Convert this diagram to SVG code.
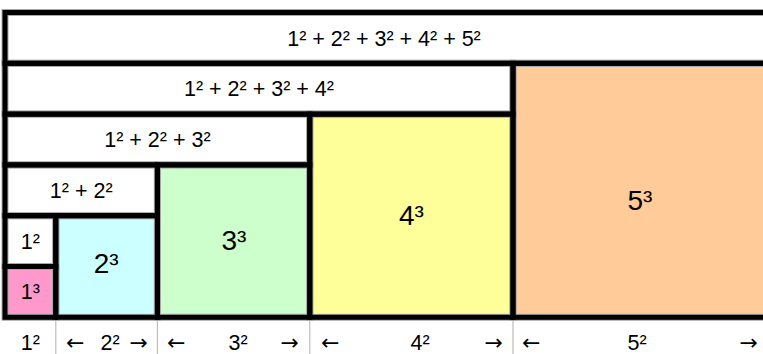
<svg xmlns="http://www.w3.org/2000/svg" width="763" height="354" viewBox="0 0 763 354">
<style>
text{font-family:"Liberation Sans",Arial,sans-serif;fill:#000;font-size:21.5px;text-anchor:middle}
.big{font-size:28px}
.ar{font-family:"DejaVu Sans","Liberation Sans",sans-serif;font-size:22px}
.st{text-anchor:start}
.en{text-anchor:end}
.halo{fill:none;stroke:#a8a8a8;stroke-width:7}
.bd{fill:none;stroke:#000;stroke-width:5}
.grid{stroke:#bdbdbd;stroke-width:1.2}
</style>
<rect width="763" height="354" fill="#fff"/>
<g id="fills">
<rect x="5" y="12.5" width="780" height="50.8" fill="#fff"/>
<rect x="5" y="63.3" width="508" height="50.8" fill="#fff"/>
<rect x="513" y="63.3" width="270" height="254" fill="#ffcc99"/>
<rect x="5" y="114.1" width="304.8" height="50.8" fill="#fff"/>
<rect x="309.8" y="114.1" width="203.2" height="203.2" fill="#ffff99"/>
<rect x="5" y="164.9" width="152.4" height="50.8" fill="#fff"/>
<rect x="157.4" y="164.9" width="152.4" height="152.4" fill="#ccffcc"/>
<rect x="5" y="215.7" width="50.8" height="50.8" fill="#fff"/>
<rect x="5" y="266.5" width="50.8" height="50.8" fill="#ff99cc"/>
<rect x="55.8" y="215.7" width="101.6" height="101.6" fill="#ccffff"/>
</g>
<g id="connectors">
<line class="grid" x1="55.8" y1="317" x2="55.8" y2="354"/>
<line class="grid" x1="157.4" y1="317" x2="157.4" y2="354"/>
<line class="grid" x1="309.8" y1="317" x2="309.8" y2="354"/>
<line class="grid" x1="513" y1="317" x2="513" y2="354"/>
</g>
<g id="halos">
<rect class="halo" x="5" y="12.5" width="780" height="50.8"/>
<rect class="halo" x="5" y="63.3" width="508" height="50.8"/>
<rect class="halo" x="513" y="63.3" width="270" height="254"/>
<rect class="halo" x="5" y="114.1" width="304.8" height="50.8"/>
<rect class="halo" x="309.8" y="114.1" width="203.2" height="203.2"/>
<rect class="halo" x="5" y="164.9" width="152.4" height="50.8"/>
<rect class="halo" x="157.4" y="164.9" width="152.4" height="152.4"/>
<rect class="halo" x="5" y="215.7" width="50.8" height="50.8"/>
<rect class="halo" x="5" y="266.5" width="50.8" height="50.8"/>
<rect class="halo" x="55.8" y="215.7" width="101.6" height="101.6"/>
</g>
<g id="row1"><rect class="bd" x="5" y="12.5" width="780" height="50.8"/><text x="384" y="45.5">1² + 2² + 3² + 4² + 5²</text></g>
<g id="row2"><rect class="bd" x="5" y="63.3" width="508" height="50.8"/><text x="259" y="96.3">1² + 2² + 3² + 4²</text></g>
<g id="cube5"><rect class="bd" x="513" y="63.3" width="270" height="254"/><text class="big" x="640" y="210">5³</text></g>
<g id="row3"><rect class="bd" x="5" y="114.1" width="304.8" height="50.8"/><text x="157.4" y="147">1² + 2² + 3²</text></g>
<g id="cube4"><rect class="bd" x="309.8" y="114.1" width="203.2" height="203.2"/><text class="big" x="411.4" y="225">4³</text></g>
<g id="row4"><rect class="bd" x="5" y="164.9" width="152.4" height="50.8"/><text x="81.2" y="197.8">1² + 2²</text></g>
<g id="cube3"><rect class="bd" x="157.4" y="164.9" width="152.4" height="152.4"/><text class="big" x="234" y="250">3³</text></g>
<g id="sq1"><rect class="bd" x="5" y="215.7" width="50.8" height="50.8"/><text x="30.4" y="248.6">1²</text></g>
<g id="cube1"><rect class="bd" x="5" y="266.5" width="50.8" height="50.8"/><text x="30.4" y="298.5">1³</text></g>
<g id="cube2"><rect class="bd" x="55.8" y="215.7" width="101.6" height="101.6"/><text class="big" x="106.2" y="273">2³</text></g>
<g id="bottom">
<text x="30.4" y="350">1²</text>
<text class="ar st" x="66" y="350">←</text><text x="110" y="350">2²</text><text class="ar en" x="148" y="350">→</text>
<text class="ar st" x="167" y="350">←</text><text x="238" y="350">3²</text><text class="ar en" x="299" y="350">→</text>
<text class="ar st" x="321" y="350">←</text><text x="420" y="350">4²</text><text class="ar en" x="503" y="350">→</text>
<text class="ar st" x="522" y="350">←</text><text x="637" y="350">5²</text><text class="ar en" x="758" y="350">→</text>
</g>
</svg>
